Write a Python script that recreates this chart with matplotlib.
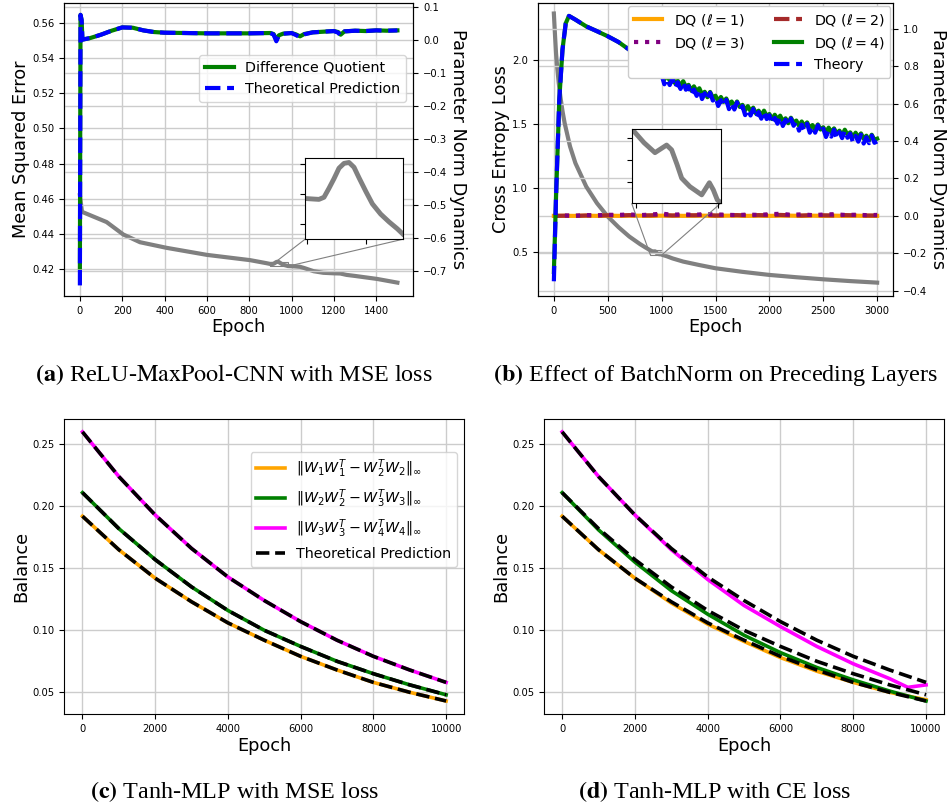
import matplotlib
matplotlib.use('Agg')
import matplotlib.pyplot as plt
from matplotlib.lines import Line2D
from mpl_toolkits.axes_grid1.inset_locator import mark_inset

plt.rcParams['font.family'] = ['DejaVu Sans']
plt.rcParams['mathtext.fontset'] = 'dejavusans'

# ---------------- Panel (a) data ----------------
a_loss_epochs = [0, 10, 20, 60, 126, 205, 284, 410, 600, 804, 880, 898,
                 905.7, 910.0, 914.3, 918.6, 922.9, 927.2, 931.5, 935.8, 940.1, 944.4,
                 950.2, 955.9, 963.0, 970.2, 977.3, 983.0,
                 1009, 1040, 1060, 1104, 1150, 1200, 1230, 1260, 1300, 1404, 1500]
a_loss = [0.462, 0.4525, 0.452, 0.450, 0.4467, 0.4396, 0.4352, 0.432, 0.428, 0.425, 0.4233, 0.42286,
          0.42284, 0.42283, 0.42290, 0.42320, 0.42352, 0.42387, 0.42403, 0.42406, 0.42390, 0.42355,
          0.42310, 0.42268, 0.42234, 0.42208, 0.42185, 0.42164,
          0.4215, 0.4212, 0.4205, 0.4187, 0.4178, 0.4175, 0.4174, 0.4166, 0.4160, 0.4143, 0.4122]
a_norm_epochs = [0, 3, 8, 12, 50, 100, 150, 200, 250, 300, 350, 400, 500, 600, 700, 800, 900,
                 915, 928, 940, 960, 1000, 1020, 1040, 1060, 1100, 1150, 1200, 1220, 1232,
                 1250, 1300, 1350, 1400, 1450, 1500]
a_dq = [-0.69, 0.075, 0.06, 0.0, 0.005, 0.015, 0.027, 0.037, 0.036, 0.028, 0.023, 0.021, 0.020,
        0.019, 0.019, 0.019, 0.020, 0.017, 0.000, 0.013, 0.018, 0.020, 0.016, 0.010, 0.017,
        0.022, 0.024, 0.026, 0.023, 0.015, 0.025, 0.027, 0.026, 0.028, 0.027, 0.028]
a_theory = [-0.745, 0.075, 0.06, 0.0, 0.005, 0.015, 0.027, 0.037, 0.036, 0.028, 0.023, 0.021, 0.020,
            0.019, 0.019, 0.019, 0.020, 0.015, -0.005, 0.012, 0.018, 0.020, 0.014, 0.007, 0.016,
            0.022, 0.024, 0.026, 0.021, 0.012, 0.025, 0.027, 0.026, 0.028, 0.027, 0.028]
a_left_ticks = [0.42, 0.44, 0.46, 0.48, 0.50, 0.52, 0.54, 0.56]
a_right_ticks = [-0.7, -0.6, -0.5, -0.4, -0.3, -0.2, -0.1, 0.0, 0.1]

# ---------------- Panel (b) data ----------------
b_loss_epochs = [0, 10, 20, 30, 45, 60, 80, 100, 150, 200, 300, 400, 500, 600, 700, 800, 850,
                 897, 910, 923.3, 937.4, 943.5, 950, 955.7, 965.7, 980.0, 989.3, 994.1, 999.0,
                 1050, 1100, 1200, 1350, 1500, 1750, 2000, 2250, 2500, 2750, 3000]
b_loss = [2.36, 2.20, 2.05, 1.95, 1.82, 1.714, 1.60, 1.506, 1.324, 1.194, 1.012, 0.882, 0.778,
          0.695, 0.622, 0.563, 0.537,
          0.5136, 0.5080, 0.5034, 0.5069, 0.5047, 0.4980, 0.4916, 0.4877, 0.4839, 0.4895, 0.4862, 0.4815,
          0.468, 0.452, 0.427, 0.400, 0.375, 0.347, 0.323, 0.305, 0.289, 0.275, 0.263]
b_norm_epochs = [0, 20, 50, 80, 110, 140, 200, 300, 400, 500, 600, 700, 800,
                 850, 875, 900, 925, 950, 975, 1000, 1025, 1050, 1075, 1100, 1125, 1150, 1175,
                 1200, 1225, 1250, 1275, 1300, 1325, 1350, 1375, 1400, 1425, 1450, 1475, 1500,
                 1525, 1550, 1575, 1600, 1625, 1650, 1675, 1700, 1725, 1750, 1775, 1800, 1825,
                 1850, 1875, 1900, 1925, 1950, 1975, 2000, 2025, 2050, 2075, 2100, 2125, 2150,
                 2175, 2200, 2225, 2250, 2275, 2300, 2325, 2350, 2375, 2400, 2425, 2450, 2475,
                 2500, 2525, 2550, 2575, 2600, 2625, 2650, 2675, 2700, 2725, 2750, 2775, 2800,
                 2825, 2850, 2875, 2900, 2925, 2950, 2975, 3000]
b_dq4 = [-0.30, 0.10, 0.62, 0.89, 1.03, 1.07, 1.05, 1.014, 0.988, 0.961, 0.930, 0.889, 0.835,
         0.832, 0.789, 0.793, 0.761, 0.785, 0.752, 0.760, 0.730, 0.751, 0.724, 0.742, 0.709,
         0.723, 0.694, 0.721, 0.691, 0.701, 0.671, 0.693, 0.666, 0.683, 0.650, 0.664, 0.635,
         0.663, 0.633, 0.643, 0.614, 0.636, 0.610, 0.628, 0.596, 0.612, 0.584, 0.612, 0.583,
         0.594, 0.565, 0.587, 0.561, 0.579, 0.548, 0.563, 0.535, 0.563, 0.534, 0.545, 0.518,
         0.541, 0.517, 0.536, 0.506, 0.522, 0.496, 0.525, 0.498, 0.510, 0.482, 0.505, 0.481,
         0.500, 0.470, 0.486, 0.460, 0.489, 0.462, 0.474, 0.448, 0.472, 0.448, 0.468, 0.439,
         0.456, 0.431, 0.461, 0.434, 0.447, 0.421, 0.445, 0.421, 0.441, 0.412, 0.429, 0.404,
         0.434, 0.407, 0.413]
b_theory = [-0.35, 0.10, 0.62, 0.89, 1.03, 1.07, 1.05, 1.014, 0.988, 0.961, 0.930, 0.889, 0.835,
            0.825, 0.764, 0.785, 0.746, 0.781, 0.736, 0.753, 0.704, 0.734, 0.700, 0.735, 0.684,
            0.715, 0.679, 0.717, 0.675, 0.694, 0.645, 0.676, 0.642, 0.676, 0.625, 0.656, 0.620,
            0.659, 0.617, 0.636, 0.588, 0.619, 0.586, 0.621, 0.571, 0.604, 0.569, 0.608, 0.567,
            0.587, 0.539, 0.570, 0.537, 0.572, 0.523, 0.555, 0.520, 0.559, 0.518, 0.538, 0.492,
            0.524, 0.493, 0.529, 0.481, 0.514, 0.481, 0.521, 0.482, 0.503, 0.456, 0.488, 0.457,
            0.493, 0.445, 0.478, 0.445, 0.485, 0.446, 0.467, 0.422, 0.455, 0.424, 0.461, 0.414,
            0.448, 0.416, 0.457, 0.418, 0.440, 0.395, 0.428, 0.397, 0.434, 0.387, 0.421, 0.389,
            0.430, 0.391, 0.398]
b_flat_epochs = [0, 100, 200, 300, 400, 500, 600, 700, 800, 900, 1000, 1100, 1200, 1300, 1400,
                 1500, 1600, 1700, 1800, 1900, 2000, 2100, 2200, 2300, 2400, 2500, 2600, 2700,
                 2800, 2900, 3000]
b_dq1 = [0.0, 0.0, 0.0, 0.001, 0.0, 0.001, 0.0, 0.001, 0.001, 0.0, 0.001, 0.001, 0.0, 0.001, 0.001,
         0.0, 0.001, 0.001, 0.0, 0.001, 0.0, 0.001, 0.001, 0.0, 0.001, 0.0, 0.001, 0.0, 0.001, 0.0, 0.0]
b_dq2 = [0.0, 0.001, 0.0, 0.002, 0.001, 0.003, 0.002, 0.004, 0.002, 0.003, 0.005, 0.002, 0.004,
         0.003, 0.005, 0.002, 0.003, 0.004, 0.002, 0.004, 0.003, 0.005, 0.003, 0.002, 0.004,
         0.003, 0.002, 0.004, 0.003, 0.002, 0.002]
b_dq3 = [0.0, 0.002, 0.001, 0.004, 0.003, 0.006, 0.005, 0.008, 0.004, 0.007, 0.012, 0.006, 0.009,
         0.005, 0.010, 0.008, 0.006, 0.004, 0.007, 0.005, 0.009, 0.011, 0.006, 0.008, 0.004,
         0.007, 0.009, 0.005, 0.006, 0.004, 0.005]
b_left_ticks = [0.5, 1.0, 1.5, 2.0]
b_right_ticks = [-0.4, -0.2, 0.0, 0.2, 0.4, 0.6, 0.8, 1.0]

# ---------------- Panels (c), (d) data ----------------
cd_epochs = [0, 1000, 2000, 3000, 4000, 5000, 6000, 7000, 8000, 9000, 10000]
c_bal12 = [0.192, 0.165, 0.142, 0.123, 0.106, 0.092, 0.079, 0.068, 0.058, 0.050, 0.043]
c_bal23 = [0.211, 0.182, 0.157, 0.135, 0.116, 0.100, 0.087, 0.075, 0.065, 0.056, 0.048]
c_bal34 = [0.260, 0.224, 0.193, 0.166, 0.143, 0.124, 0.107, 0.092, 0.079, 0.068, 0.058]
theory12 = [0.192, 0.165, 0.142, 0.123, 0.106, 0.092, 0.079, 0.068, 0.058, 0.050, 0.043]
theory23 = [0.211, 0.182, 0.157, 0.135, 0.116, 0.100, 0.087, 0.075, 0.065, 0.056, 0.048]
theory34 = [0.260, 0.224, 0.193, 0.166, 0.143, 0.124, 0.107, 0.092, 0.079, 0.068, 0.058]
d_epochs = [0, 1000, 2000, 3000, 4000, 5000, 6000, 7000, 8000, 9000, 9500, 10000]
d_bal12 = [0.192, 0.165, 0.142, 0.122, 0.105, 0.091, 0.078, 0.067, 0.058, 0.050, 0.047, 0.044]
d_bal23 = [0.211, 0.181, 0.155, 0.132, 0.113, 0.096, 0.082, 0.070, 0.060, 0.051, 0.047, 0.043]
d_bal34 = [0.260, 0.224, 0.193, 0.165, 0.141, 0.120, 0.103, 0.087, 0.073, 0.061, 0.054, 0.056]
cd_yticks = [0.05, 0.10, 0.15, 0.20, 0.25]
cd_xticks = [0, 2000, 4000, 6000, 8000, 10000]

labels_cd = [r'$\|W_1W_1^T - W_2^TW_2\|_\infty$',
             r'$\|W_2W_2^T - W_3^TW_3\|_\infty$',
             r'$\|W_3W_3^T - W_4^TW_4\|_\infty$',
             'Theoretical Prediction']

captions = [r'$\mathbf{(a)}$ ReLU-$\mathrm{MaxPool}$-CNN with MSE loss',
            r'$\mathbf{(b)}$ Effect of BatchNorm on Preceding Layers',
            r'$\mathbf{(c)}$ Tanh-MLP with MSE loss',
            r'$\mathbf{(d)}$ Tanh-MLP with CE loss']

# ---------------- Figure ----------------
TICK = 7.2
LAB = 12.8
LEG = 10.3
GRID = dict(color='#cccccc', lw=1.0)

fig = plt.figure(figsize=(9.47, 8.10), dpi=100)

def style(ax):
    ax.tick_params(labelsize=TICK)
    ax.grid(True, **GRID)

# (a)
axa = fig.add_axes([0.0676, 0.6346, 0.3688, 0.3617])
axa.plot(a_loss_epochs, a_loss, color='gray', lw=3)
axa.set_ylim(0.4046, 0.5714)
axa.set_xlim(-75, 1575)
axa.set_yticks(a_left_ticks)
axa.set_ylabel('Mean Squared Error', fontsize=LAB, labelpad=1.5)
axa.set_xlabel('Epoch', fontsize=LAB, labelpad=2)
style(axa)
axa2 = axa.twinx()
axa2.plot(a_norm_epochs, a_dq, color='green', lw=3, label='Difference Quotient')
axa2.plot(a_norm_epochs, a_theory, color='blue', lw=3, ls='--', label='Theoretical Prediction')
axa2.set_ylim(-0.777, 0.111)
axa2.set_yticks(a_right_ticks)
axa2.set_ylabel('Parameter Norm Dynamics', fontsize=LAB, rotation=270, labelpad=14)
style(axa2)
axa2.legend(loc='upper right', bbox_to_anchor=(1, 0.846), fontsize=LEG)

insa = fig.add_axes([0.3221, 0.7046, 0.1032, 0.1], zorder=5)
insa.plot(a_loss_epochs, a_loss, color='gray', lw=3.5)
insa.set_xlim(898, 982)
insa.set_ylim(0.4215, 0.4242)
insa.set_xticks([900, 950])
insa.set_yticks([0.422, 0.423, 0.424])
insa.set_xticklabels([])
insa.set_yticklabels([])
mark_inset(axa, insa, loc1=3, loc2=4, fc='none', ec='0.5', lw=0.8)

# (b)
axb = fig.add_axes([0.5678, 0.6346, 0.3755, 0.3617])
axb.plot(b_loss_epochs, b_loss, color='gray', lw=3)
axb.set_ylim(0.159, 2.442)
axb.set_xlim(-150, 3150)
axb.set_yticks(b_left_ticks)
axb.set_ylabel('Cross Entropy Loss', fontsize=LAB, labelpad=1.5)
axb.set_xlabel('Epoch', fontsize=LAB, labelpad=2)
style(axb)
axb2 = axb.twinx()
h1, = axb2.plot(b_flat_epochs, b_dq1, color='orange', lw=3, label=r'DQ ($\ell = 1$)')
h2, = axb2.plot(b_flat_epochs, b_dq2, color='brown', lw=3, ls='--', label=r'DQ ($\ell = 2$)')
h3, = axb2.plot(b_flat_epochs, b_dq3, color='purple', lw=3, ls=':', label=r'DQ ($\ell = 3$)')
h4, = axb2.plot(b_norm_epochs, b_dq4, color='green', lw=3, label=r'DQ ($\ell = 4$)')
h5, = axb2.plot(b_norm_epochs, b_theory, color='blue', lw=3, ls='--', label='Theory')
axb2.set_ylim(-0.4286, 1.139)
axb2.set_yticks(b_right_ticks)
axb2.set_ylabel('Parameter Norm Dynamics', fontsize=LAB, rotation=270, labelpad=14)
style(axb2)
blank = Line2D([], [], alpha=0)
axb2.legend([h1, h3, blank, h2, h4, h5],
            [h1.get_label(), h3.get_label(), '', h2.get_label(), h4.get_label(), h5.get_label()],
            ncol=2, loc='upper right', fontsize=LEG, framealpha=1, borderaxespad=0.2)

insb = fig.add_axes([0.6670, 0.7490, 0.0940, 0.0914], zorder=5)
insb.plot(b_loss_epochs, b_loss, color='gray', lw=3.5)
insb.set_xlim(895, 1003)
insb.set_ylim(0.480, 0.5142)
insb.set_xticks([900, 1000])
insb.set_yticks([0.49, 0.50, 0.51])
insb.set_xticklabels([])
insb.set_yticklabels([])
mark_inset(axb, insb, loc1=3, loc2=4, fc='none', ec='0.5', lw=0.8)

# (c), (d)
def balance_panel(rect, e, s12, s23, s34, legend):
    ax = fig.add_axes(rect)
    ax.plot(e, s12, color='orange', lw=2.6, label=labels_cd[0])
    ax.plot(e, s23, color='green', lw=2.6, label=labels_cd[1])
    ax.plot(e, s34, color='magenta', lw=2.6, label=labels_cd[2])
    ax.plot(cd_epochs, theory12, color='black', lw=2.6, ls='--', label=labels_cd[3])
    ax.plot(cd_epochs, theory23, color='black', lw=2.6, ls='--')
    ax.plot(cd_epochs, theory34, color='black', lw=2.6, ls='--')
    ax.set_xlim(-500, 10500)
    ax.set_ylim(0.0325, 0.2704)
    ax.set_xticks(cd_xticks)
    ax.set_yticks(cd_yticks)
    ax.set_xlabel('Epoch', fontsize=LAB, labelpad=2)
    ax.set_ylabel('Balance', fontsize=LAB, labelpad=1.5)
    style(ax)
    if legend:
        ax.legend(loc='upper right', bbox_to_anchor=(1, 0.912), fontsize=LEG)
    return ax

balance_panel([0.0679, 0.1185, 0.4224, 0.3642], cd_epochs, c_bal12, c_bal23, c_bal34, True)
balance_panel([0.5744, 0.1185, 0.4227, 0.3642], d_epochs, d_bal12, d_bal23, d_bal34, False)

# captions
cap_pos = [(234, 375), (715, 375), (235, 792), (715, 792)]
for (px, py), txt in zip(cap_pos, captions):
    fig.text(px / 947, 1 - py / 810, txt, ha='center', va='center', fontsize=17.4,
             family='Liberation Serif', math_fontfamily='stix')

fig.savefig('out.png', dpi=100)
